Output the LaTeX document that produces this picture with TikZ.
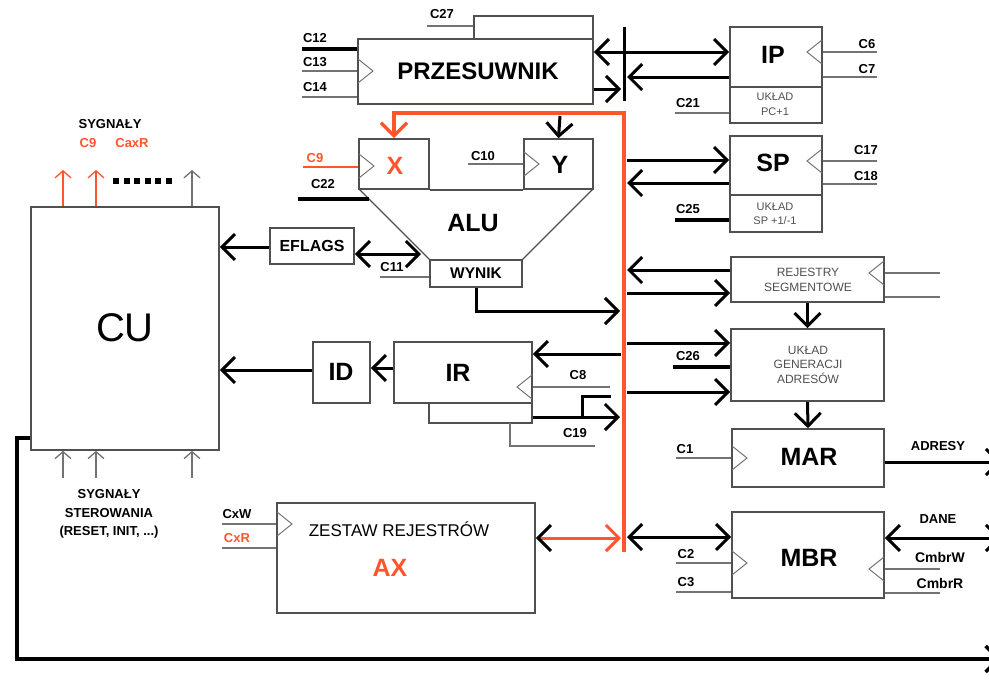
\documentclass[tikz,border=0pt]{standalone}
\usepackage{fontspec}
\setmainfont{Liberation Sans}
\usetikzlibrary{arrows.meta,fit}
\definecolor{busred}{RGB}{255,85,45}
\definecolor{boxgrey}{RGB}{80,80,80}
\definecolor{thin}{RGB}{115,115,115}
\newcommand\clkl[2]{\draw[clk] (#1,#2-12) -- (#1+15,#2) -- (#1,#2+12);}
\newcommand\clkr[2]{\draw[clk] (#1,#2-12) -- (#1-15,#2) -- (#1,#2+12);}
\begin{document}
\begin{tikzpicture}[x=1pt,y=-1pt,
 box/.style={draw=boxgrey, line width=1.6pt, fill=white, inner sep=0pt},
 clk/.style={draw=thin, line width=1pt},
 thinln/.style={draw=thin, line width=1.4pt},
 thickln/.style={draw=black, line width=3.2pt},
 arr/.style={draw=black, line width=3pt, -{Straight Barb[length=13pt,width=26pt]}},
 darr/.style={draw=black, line width=3pt, {Straight Barb[length=13pt,width=26pt]}-{Straight Barb[length=13pt,width=26pt]}},
 sigr/.style={draw=busred, line width=1.3pt, -{Straight Barb[length=7pt,width=16pt]}},
 sigg/.style={draw=thin, line width=1.3pt, -{Straight Barb[length=7pt,width=16pt]}},
 cl/.style={font=\bfseries\fontsize{13}{13}\selectfont, inner sep=0pt},
 big/.style={font=\bfseries\fontsize{25}{25}\selectfont, inner sep=0pt},
 sm/.style={font=\fontsize{11}{11}\selectfont, inner sep=0pt, text=boxgrey},
 seg/.style={font=\fontsize{12}{12}\selectfont, inner sep=0pt, text=boxgrey},
]
\useasboundingbox (0,0) rectangle (989,683);

% ---------- boxes ----------
\node[box, fit={(31,207) (219,450)}] (cu) {};
\node[box, fit={(358,39) (593,104)}] (prz) {};
\node[box, fit={(474,16) (593,39)}] (przt) {};
\node[box, fit={(730,27) (822,87)}] (ip) {};
\node[box, fit={(730,87) (822,123)}] (ipinc) {};
\node[box, fit={(730,136) (822,195)}] (sp) {};
\node[box, fit={(730,195) (822,232)}] (spinc) {};
\node[box, fit={(359,139) (429,189)}] (xr) {};
\node[box, fit={(524,139) (593,189)}] (yr) {};
\node[box, fit={(430,260) (522,287)}] (wynik) {};
\node[box, fit={(270,228) (354,264)}] (eflags) {};
\node[box, fit={(394,342) (532,403)}] (ir) {};
\node[box, fit={(313,342) (370,403)}] (id) {};
\node[box, fit={(731,257) (884,302)}] (segr) {};
\node[box, fit={(731,329) (884,401)}] (gen) {};
\node[box, fit={(732,429) (884,487)}] (mar) {};
\node[box, fit={(732,512) (884,598)}] (mbr) {};
\node[box, fit={(277,503) (535,613)}] (zestaw) {};

% ALU trapezoid
\coordinate (alul) at (359,189);
\coordinate (alur) at (593,189);
\draw[boxgrey, line width=1.4pt] (xr.south east) -- (yr.south west);
\draw[boxgrey, line width=1.2pt] (alul) -- (wynik.north west);
\draw[boxgrey, line width=1.2pt] (alur) -- (wynik.north east);
% IR lower part
\draw[boxgrey, line width=1.4pt] (429,403) -- (429,423) -- (532,423) -- (532,403);
\draw[thinln] (510,423) -- (510,446) -- (595,446);

% ---------- texts ----------
\node[font=\fontsize{40}{40}\selectfont, inner sep=0pt] (tcu) at (125,328) {CU};
\node[font=\bfseries\fontsize{24}{24}\selectfont, inner sep=0pt] (tprz) at (478,71) {PRZESUWNIK};
\node[big] (tip) at (773,55) {IP};
\node[sm] (tip1) at (775,97) {UKŁAD};
\node[sm] (tip2) at (775,112) {PC+1};
\node[big] (tsp) at (773,163) {SP};
\node[sm] (tsp1) at (775,207) {UKŁAD};
\node[sm] (tsp2) at (775,221) {SP +1/-1};
\node[big, text=busred] (tx) at (395,166) {X};
\node[big] (ty) at (560,165) {Y};
\node[big] (talu) at (473,223) {ALU};
\node[font=\bfseries\fontsize{15.5}{15.5}\selectfont, inner sep=0pt] (twyn) at (476,273) {WYNIK};
\node[font=\bfseries\fontsize{16}{16}\selectfont, inner sep=0pt] (tefl) at (312,246) {EFLAGS};
\node[big] (tir) at (458,373) {IR};
\node[big] (tid) at (341,372) {ID};
\node[seg] (tseg1) at (808,272) {REJESTRY};
\node[seg] (tseg2) at (808,287) {SEGMENTOWE};
\node[seg] (tgen1) at (808,350) {UKŁAD};
\node[seg] (tgen2) at (808,364) {GENERACJI};
\node[seg] (tgen3) at (808,378) {ADRESÓW};
\node[big] (tmar) at (809,457) {MAR};
\node[big] (tmbr) at (809,558) {MBR};
\node[font=\fontsize{17}{17}\selectfont, inner sep=0pt] (tzes) at (399,529) {ZESTAW REJESTRÓW};
\node[big, text=busred] (tax) at (390,568) {AX};

% control labels
\node[cl] (lc27) at (442,14) {C27};
\node[cl] (lc12) at (315,38) {C12};
\node[cl] (lc13) at (315,62) {C13};
\node[cl] (lc14) at (315,87) {C14};
\node[cl] (lc6) at (867,44) {C6};
\node[cl] (lc7) at (867,69) {C7};
\node[cl] (lc21) at (688,103) {C21};
\node[cl] (lc17) at (866,150) {C17};
\node[cl] (lc18) at (866,176) {C18};
\node[cl] (lc25) at (688,209) {C25};
\node[cl, text=busred] (lc9) at (315,158) {C9};
\node[cl] (lc22) at (323,184) {C22};
\node[cl] (lc10) at (483,156) {C10};
\node[cl] (lc11) at (392,267) {C11};
\node[cl] (lc8) at (578,375) {C8};
\node[cl] (lc19) at (575,433) {C19};
\node[cl] (lc26) at (688,356) {C26};
\node[cl] (lc1) at (685,449) {C1};
\node[cl] (lc2) at (686,554) {C2};
\node[cl] (lc3) at (686,582) {C3};
\node[cl] (lcxw) at (237,514) {CxW};
\node[cl, text=busred] (lcxr) at (237,538) {CxR};
\node[cl] (ladr) at (938,446) {ADRESY};
\node[cl] (ldane) at (938,519) {DANE};
\node[cl, font=\bfseries\fontsize{14}{14}\selectfont] (lcw) at (940,557) {CmbrW};
\node[cl, font=\bfseries\fontsize{14}{14}\selectfont] (lcr) at (940,583) {CmbrR};
\node[cl] (lsyg) at (110,124) {SYGNAŁY};
\node[cl, text=busred] (lsc9) at (88,143) {C9};
\node[cl, text=busred] (lscax) at (132,143) {CaxR};
\node[cl] (lsyg2) at (109,494) {SYGNAŁY};
\node[cl] (lster) at (109,513) {STEROWANIA};
\node[cl] (lres) at (109,532) {(RESET, INIT, ...)};

% ---------- control lines ----------
\draw[thinln] (427,26) -- (przt.west |- 0,26);
\draw[thickln] (302,49) -- (prz.west |- 0,49);
\draw[thinln] (302,71) -- (prz.west |- 0,71);
\draw[thinln] (302,97) -- (prz.west |- 0,97);
\clkl{358}{71}
\draw[thinln] (ip.east |- 0,52) -- (877,52);
\draw[thinln] (ip.east |- 0,77) -- (877,77);
\clkr{822}{52}
\draw[thinln] (675,113) -- (ipinc.west |- 0,113);
\draw[thinln] (sp.east |- 0,161) -- (877,161);
\draw[thinln] (sp.east |- 0,184) -- (877,184);
\clkr{822}{161}
\draw[thickln] (675,220) -- (spinc.west |- 0,220);
\draw[busred, line width=1.4pt] (303,167) -- (xr.west |- 0,167);
\clkl{359}{166}
\draw[thickln] (298,199) -- (369,199);
\draw[thinln] (468,164) -- (yr.west |- 0,164);
\clkl{524}{164}
\draw[thinln] (380,277) -- (wynik.west |- 0,277);
\draw[thinln] (ir.east |- 0,387) -- (610,387);
\clkr{532}{387}
\draw[thinln] (segr.east |- 0,273) -- (940,273);
\draw[thinln] (segr.east |- 0,297) -- (940,297);
\clkr{884}{273}
\draw[thickln] (673,367) -- (gen.west |- 0,367);
\draw[thinln] (676,458) -- (mar.west |- 0,458);
\clkl{732}{458}
\draw[thinln] (676,563) -- (mbr.west |- 0,563);
\draw[thinln] (676,592) -- (mbr.west |- 0,592);
\clkl{732}{563}
\draw[thinln] (mbr.east |- 0,569) -- (940,569);
\draw[thinln] (mbr.east |- 0,593) -- (940,593);
\clkr{884}{569}
\draw[thinln] (222,524) -- (zestaw.west |- 0,524);
\draw[thinln] (222,548) -- (zestaw.west |- 0,548);
\clkl{277}{524}

% ---------- buses ----------
\coordinate (bbTop) at (624,27);
\coordinate (bbBot) at (624,101);
\draw[line width=3pt] (bbTop) -- (bbBot);
\coordinate (busTop) at (624,113);
\coordinate (busBot) at (624,552);
\draw[busred, line width=3.5pt, -{Straight Barb[length=13pt,width=26pt]}] (busBot) -- (busTop) -| (xr.north);

% ---------- arrows ----------
\draw[arr] (624,52) -- (prz.east |- 0,52);
\draw[arr] (prz.east |- 0,89) -- (621,89);
\draw[arr] (624,52) -- (ip.west |- 0,52);
\draw[arr] (ip.west |- 0,77) -- (627,77);
\draw[arr] (627,160) -- (sp.west |- 0,160);
\draw[arr] (sp.west |- 0,183) -- (627,183);
\draw[arr] (560,116) -- (yr.north);
\draw[darr] (eflags.east |- 0,254) -- (421,254);
\draw[arr] (eflags.west |- 0,247) -- (cu.east |- 0,247);
\draw[arr] (wynik.south) -- (476,311) -- (620,311);
\draw[arr] (621,354) -- (ir.east |- 0,354);
\draw[arr] (ir.east |- 0,417) -- (620,417);
\draw[line width=3pt] (582,417) -- (582,396) -- (611,396);
\draw[arr] (ir.west |- 0,368) -- (id.east |- 0,368);
\draw[arr] (id.west |- 0,370) -- (cu.east |- 0,370);
\draw[arr] (segr.west |- 0,270) -- (627,270);
\draw[arr] (627,293) -- (segr.west |- 0,293);
\draw[arr] (627,343) -- (gen.west |- 0,343);
\draw[arr] (627,392) -- (gen.west |- 0,392);
\draw[arr] (segr.south) -- (gen.north);
\draw[arr] (gen.south) -- (mar.north);
\draw[arr] (mar.east |- 0,462) -- (1001,462);
\draw[darr] (627,537) -- (mbr.west |- 0,537);
\draw[darr] (1001,538) -- (mbr.east |- 0,538);
\draw[busred, line width=3pt, {Straight Barb[length=13pt,width=26pt,color=black]}-{Straight Barb[length=13pt,width=26pt]}] (zestaw.east |- 0,538) -- (621,538);
\draw[arr, line width=3.4pt] (cu.west |- 0,438) -- (17,438) -- (17,659) -- (1001,659);

% CU signals
\draw[sigr] (cu.north -| 63,0) -- (63,170);
\draw[sigr] (cu.north -| 96,0) -- (96,170);
\draw[sigg] (cu.north -| 192,0) -- (192,170);
\foreach \i in {0,...,5} \fill (113+\i*10.5,178) rectangle ++(6,6);
\draw[sigg] (63,478) -- (cu.south -| 63,0);
\draw[sigg] (96,478) -- (cu.south -| 96,0);
\draw[sigg] (192,478) -- (cu.south -| 192,0);
\end{tikzpicture}
\end{document}
